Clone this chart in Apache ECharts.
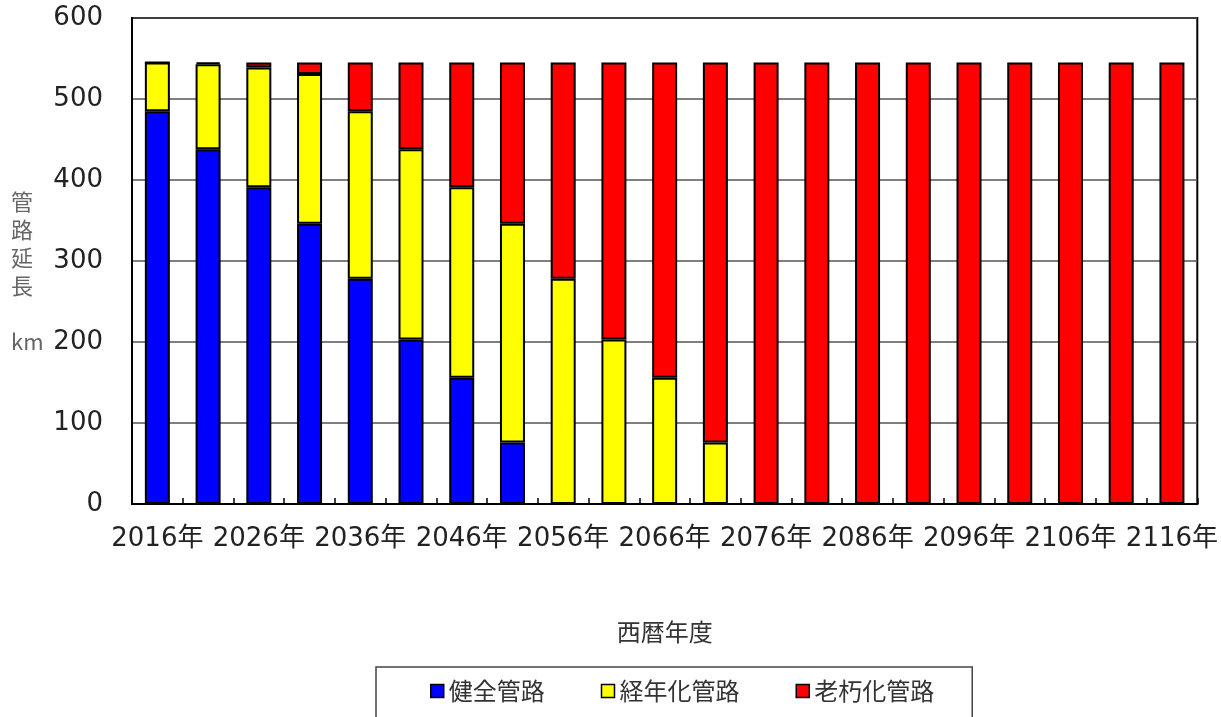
<!DOCTYPE html>
<html>
<head>
<meta charset="utf-8">
<script src="https://cdn.jsdelivr.net/npm/echarts@6/dist/echarts.min.js"></script>
<style>
  html, body { margin: 0; padding: 0; background: #fff; }
  #chart { width: 1221px; height: 717px; }
</style>
</head>
<body>
<div id="chart"></div>
<script>
// 年度 (5年刻み)
const years = ['2016年', '2021年', '2026年', '2031年', '2036年', '2041年', '2046年',
  '2051年', '2056年', '2061年', '2066年', '2071年', '2076年', '2081年', '2086年',
  '2091年', '2096年', '2101年', '2106年', '2111年', '2116年'];

// 管路延長 km
const healthy = [485, 438, 391, 346, 278, 203, 156, 76, 0, 0, 0, 0, 0, 0, 0, 0, 0, 0, 0, 0, 0];
const aging = [60, 105, 148, 185, 207, 235, 235, 270, 278, 203, 156, 76, 0, 0, 0, 0, 0, 0, 0, 0, 0];
const deteriorated = [0, 2, 6, 14, 60, 107, 154, 199, 267, 342, 389, 469, 545, 545, 545, 545, 545, 545, 545, 545, 545];

const yTicks = { min: 0, max: 600, interval: 100 };

const chart = echarts.init(document.getElementById('chart'));

const labelFont = '"DejaVu Sans", "Noto Sans CJK JP", sans-serif';
const jpFont = '"Noto Sans CJK JP", sans-serif';

function barSeries(name, data, color) {
  return {
    name: name,
    type: 'bar',
    stack: 'total',
    data: data,
    barWidth: 25,
    itemStyle: { color: color, borderColor: '#000', borderWidth: 2 },
    emphasis: { disabled: true }
  };
}

const option = {
  animation: false,
  grid: {
    left: 132, right: 23, top: 18, bottom: 213,
    show: true, borderColor: '#000', borderWidth: 2
  },
  xAxis: {
    type: 'category',
    data: years,
    name: '西暦年度',
    nameLocation: 'middle',
    nameGap: 116,
    nameTextStyle: { fontFamily: jpFont, fontSize: 24, color: '#333' },
    axisLine: { lineStyle: { color: '#000', width: 2 } },
    axisTick: { show: true, inside: true, length: 6, interval: 0, lineStyle: { color: '#000', width: 1.5 } },
    axisLabel: { interval: 1, margin: 22, fontFamily: labelFont, fontSize: 26, color: '#222' }
  },
  yAxis: {
    type: 'value',
    min: yTicks.min, max: yTicks.max, interval: yTicks.interval,
    axisLine: { show: true, lineStyle: { color: '#000', width: 2 } },
    axisTick: { show: false },
    axisLabel: { margin: 29, fontFamily: labelFont, fontSize: 26, color: '#222' },
    splitLine: { lineStyle: { color: '#555', width: 1.5 } }
  },
  legend: {
    left: 376, top: 667,
    data: ['健全管路', '経年化管路', '老朽化管路'],
    icon: 'rect',
    itemWidth: 13, itemHeight: 13, itemGap: 56,
    padding: [12, 38, 30, 54],
    borderColor: '#444', borderWidth: 1.5,
    textStyle: { fontFamily: jpFont, fontSize: 24, color: '#333' },
    itemStyle: { borderColor: '#000', borderWidth: 1.5 },
    selectedMode: false
  },
  graphic: [
    {
      type: 'text', left: 11, top: 188,
      style: {
        text: '管\n路\n延\n長', fontFamily: jpFont, fontSize: 22, lineHeight: 28,
        fill: '#666'
      }
    },
    {
      type: 'text', left: 11, top: 331,
      style: { text: 'km', fontFamily: jpFont, fontSize: 22, fill: '#666' }
    }
  ],
  series: [
    barSeries('健全管路', healthy, '#0000ff'),
    barSeries('経年化管路', aging, '#ffff00'),
    barSeries('老朽化管路', deteriorated, '#ff0000')
  ]
};

chart.setOption(option);
</script>
</body>
</html>
